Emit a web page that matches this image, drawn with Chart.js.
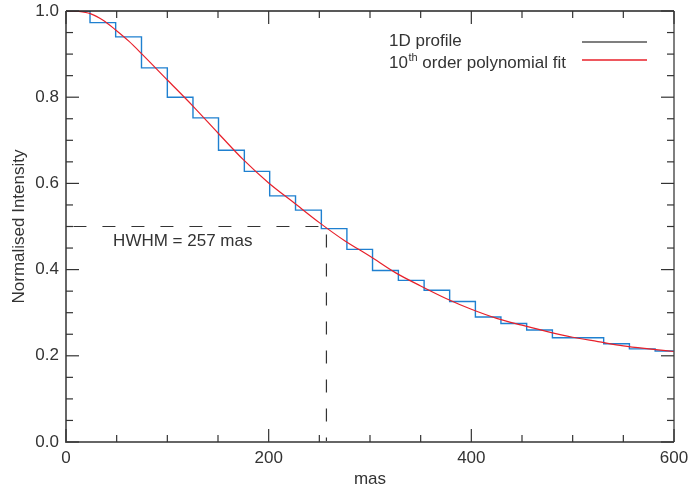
<!DOCTYPE html>
<html>
<head>
<meta charset="utf-8">
<script src="https://cdn.jsdelivr.net/npm/chart.js@4/dist/chart.umd.min.js"></script>
<style>
  html, body { margin: 0; padding: 0; background: #fff; }
  canvas { display: block; }
</style>
</head>
<body>
<canvas id="c" width="690" height="490"></canvas>
<script>
// 1D profile: step edges (mas) and the level held after each edge
const profileEdges = [0, 23.7, 49.0, 74.5, 100.0, 125.3, 150.5, 176.0, 201.0, 226.5, 252.0, 277.2, 302.5, 328.0, 353.4, 378.6, 404.0, 429.2, 454.6, 480.0, 505.4, 530.6, 556.0, 581.4, 600];
const profileLevels = [1.000, 0.973, 0.940, 0.868, 0.800, 0.752, 0.677, 0.628, 0.571, 0.538, 0.495, 0.447, 0.398, 0.375, 0.352, 0.326, 0.290, 0.275, 0.260, 0.242, 0.242, 0.228, 0.216, 0.211, 0.211];

// 10th order polynomial fit
const fitX = [0, 12, 24, 37, 49, 62, 75, 100, 125, 150, 175, 200, 225, 250, 275, 300, 325, 350, 375, 400, 425, 450, 475, 500, 525, 550, 575, 600];
const fitY = [1.000, 0.999, 0.994, 0.978, 0.956, 0.930, 0.900, 0.840, 0.780, 0.717, 0.655, 0.601, 0.555, 0.509, 0.467, 0.431, 0.393, 0.362, 0.333, 0.308, 0.287, 0.271, 0.256, 0.243, 0.233, 0.223, 0.216, 0.210];

// HWHM marker
const hwhm = 257;
const halfMax = 0.5;
const hwhmLabel = 'HWHM = 257 mas';

// Axis ticks
const xMajorTicks = [0, 200, 400, 600];
const xMinorTicks = [50, 100, 150, 250, 300, 350, 450, 500, 550];
const yMajorTicks = [0.0, 0.2, 0.4, 0.6, 0.8, 1.0];
const yMinorTicks = [0.05, 0.1, 0.15, 0.25, 0.3, 0.35, 0.45, 0.5, 0.55, 0.65, 0.7, 0.75, 0.85, 0.9, 0.95];

const FONT = '"Liberation Sans", "Helvetica Neue", Helvetica, Arial, sans-serif';
const TEXT = '#333';

const profileData = profileEdges.map((x, i) => ({ x: x, y: profileLevels[i] }));
const fitData = fitX.map((x, i) => ({ x: x, y: fitY[i] }));

const framePlugin = {
  id: 'frame',
  afterDatasetsDraw(chart) {
    const ctx = chart.ctx;
    const a = chart.chartArea;
    const xs = chart.scales.x, ys = chart.scales.y;
    ctx.save();
    // frame
    ctx.lineWidth = 1.5;
    ctx.strokeStyle = '#222';
    ctx.beginPath(); ctx.moveTo(a.left, a.top); ctx.lineTo(a.right, a.top); ctx.stroke();
    ctx.strokeStyle = '#555';
    ctx.beginPath(); ctx.moveTo(a.right, a.top); ctx.lineTo(a.right, a.bottom); ctx.stroke();
    ctx.lineWidth = 2;
    ctx.strokeStyle = '#666';
    ctx.beginPath(); ctx.moveTo(a.left, a.top); ctx.lineTo(a.left, a.bottom); ctx.lineTo(a.right, a.bottom); ctx.stroke();
    // ticks
    ctx.lineWidth = 1.2;
    ctx.strokeStyle = '#333';
    const tick = (x1, y1, x2, y2) => { ctx.beginPath(); ctx.moveTo(x1, y1); ctx.lineTo(x2, y2); ctx.stroke(); };
    xMajorTicks.forEach(v => { const p = xs.getPixelForValue(v); tick(p, a.bottom, p, a.bottom - 13); tick(p, a.top, p, a.top + 13); });
    xMinorTicks.forEach(v => { const p = xs.getPixelForValue(v); tick(p, a.bottom, p, a.bottom - 7); tick(p, a.top, p, a.top + 7); });
    yMajorTicks.forEach(v => { const p = ys.getPixelForValue(v); tick(a.left, p, a.left + 13, p); tick(a.right, p, a.right - 13, p); });
    yMinorTicks.forEach(v => { const p = ys.getPixelForValue(v); tick(a.left, p, a.left + 7, p); tick(a.right, p, a.right - 7, p); });

    // HWHM label
    ctx.fillStyle = TEXT;
    ctx.font = '17px ' + FONT;
    ctx.textBaseline = 'middle';
    ctx.textAlign = 'left';
    ctx.fillText(hwhmLabel, xs.getPixelForValue(46.5), ys.getPixelForValue(0.466));

    // legend
    const lx = a.left + 323, ly1 = a.top + 30, ly2 = a.top + 52;
    ctx.fillText('1D profile', lx, ly1);
    ctx.fillText('10', lx, ly2);
    const w10 = ctx.measureText('10').width;
    ctx.font = '11px ' + FONT;
    ctx.fillText('th', lx + w10 + 0.5, ly2 - 5);
    const wth = ctx.measureText('th').width;
    ctx.font = '17px ' + FONT;
    ctx.fillText(' order polynomial fit', lx + w10 + 0.5 + wth, ly2);
    ctx.lineWidth = 1.3;
    ctx.strokeStyle = '#555';
    tick(a.left + 516, ly1 + 1, a.left + 581, ly1 + 1);
    ctx.strokeStyle = '#e8202a';
    tick(a.left + 516, ly2 - 3, a.left + 581, ly2 - 3);
    ctx.restore();
  }
};

new Chart(document.getElementById('c'), {
  type: 'line',
  data: {
    datasets: [
      {
        label: 'HWHM horizontal',
        data: [{ x: hwhm, y: halfMax }, { x: 0, y: halfMax }],
        borderColor: '#333', borderWidth: 1.2, borderDash: [13, 16], borderDashOffset: 21,
        pointRadius: 0, fill: false, order: 3
      },
      {
        label: 'HWHM vertical',
        data: [{ x: hwhm, y: halfMax }, { x: hwhm, y: 0 }],
        borderColor: '#333', borderWidth: 1.2, borderDash: [13, 16], borderDashOffset: 21,
        pointRadius: 0, fill: false, order: 3
      },
      {
        label: '1D profile',
        data: profileData,
        stepped: 'before',
        borderColor: '#1f80d0', borderWidth: 1.4,
        pointRadius: 0, fill: false, order: 2
      },
      {
        label: '10th order polynomial fit',
        data: fitData,
        cubicInterpolationMode: 'monotone',
        borderColor: '#e8202a', borderWidth: 1.2,
        pointRadius: 0, fill: false, order: 1
      }
    ]
  },
  options: {
    responsive: false,
    animation: false,
    devicePixelRatio: 1,
    layout: { padding: { top: 11, right: 16, left: 0, bottom: 0 } },
    plugins: { legend: { display: false }, tooltip: { enabled: false } },
    scales: {
      x: {
        type: 'linear', min: 0, max: 600,
        grid: { display: false, drawTicks: false },
        border: { display: false },
        ticks: { stepSize: 200, padding: 6, color: TEXT, font: { family: FONT, size: 17 }, maxRotation: 0 },
        title: { display: true, text: 'mas', color: TEXT, font: { family: FONT, size: 17 }, padding: { top: 0, bottom: 0 } },
        afterFit(s) { s.height = 48; s.paddingLeft = 0; s.paddingRight = 0; }
      },
      y: {
        type: 'linear', min: 0, max: 1,
        grid: { display: false, drawTicks: false },
        border: { display: false },
        ticks: { stepSize: 0.2, padding: 7, color: TEXT, font: { family: FONT, size: 17 }, callback: v => Number(v).toFixed(1) },
        title: { display: true, text: 'Normalised Intensity', color: TEXT, font: { family: FONT, size: 17 }, padding: { top: 9, bottom: 0 } },
        afterFit(s) { s.width = 66; s.paddingTop = 0; s.paddingBottom = 0; }
      }
    }
  },
  plugins: [framePlugin]
});
</script>
</body>
</html>
